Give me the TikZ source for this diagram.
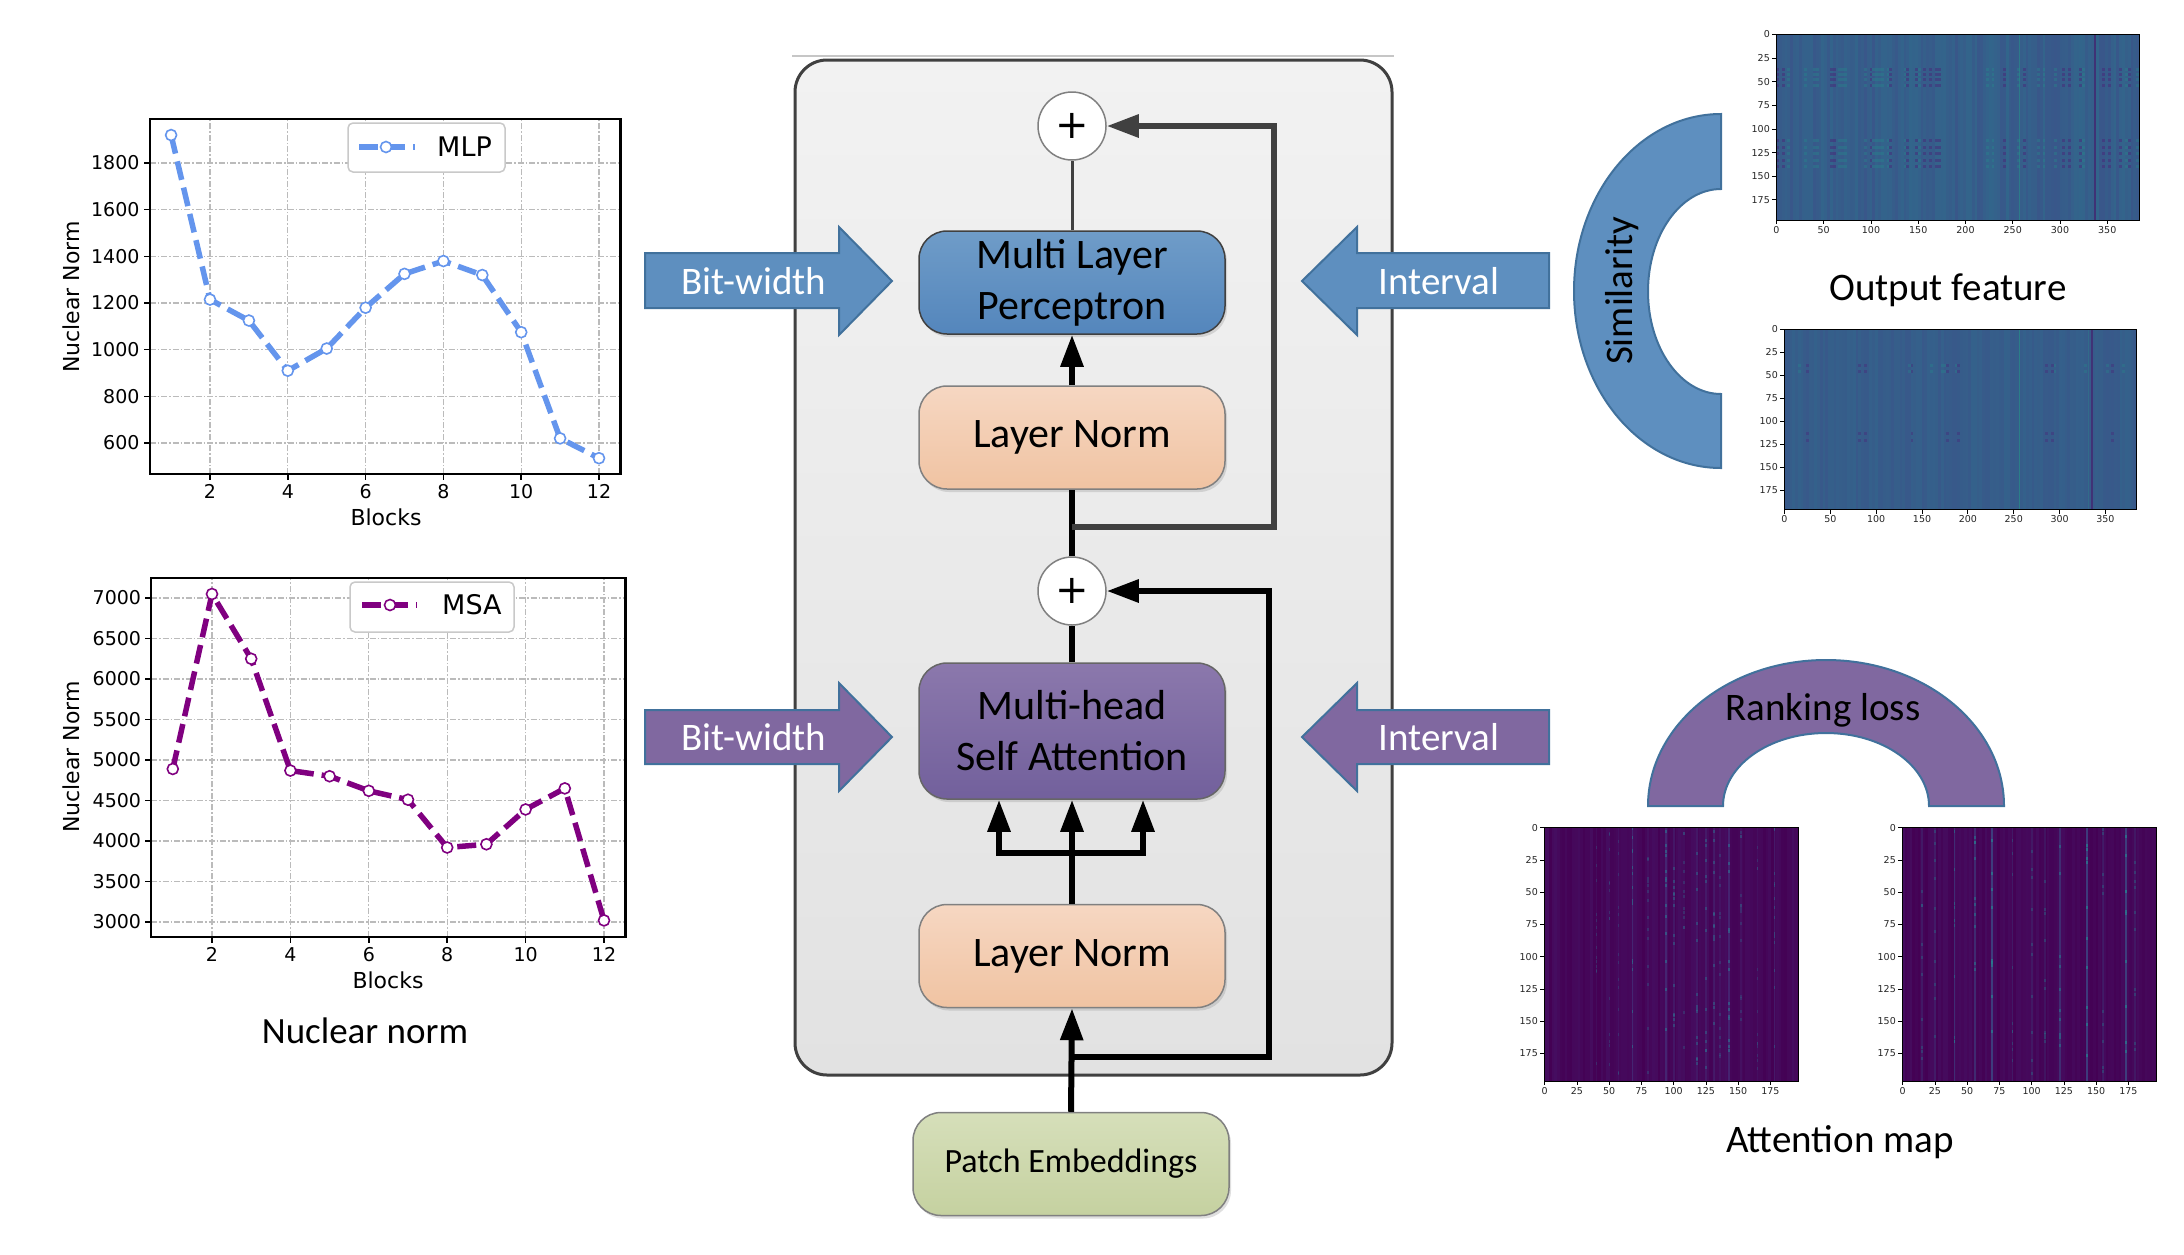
\documentclass[tikz,border=0pt]{standalone}
\usepackage{fontspec}
\setmainfont{Carlito}
\newfontfamily\plotfont{DejaVu Sans}
\usetikzlibrary{arrows.meta,shadows}
\definecolor{mlpblue}{HTML}{6495ED}
\definecolor{msapurp}{HTML}{800080}
\definecolor{gridgray}{HTML}{BBBBBB}
\definecolor{arrowblue}{HTML}{5E8FBF}
\definecolor{arrowpurp}{HTML}{8068A0}
\definecolor{arrowedge}{HTML}{41719C}
\definecolor{linegray}{HTML}{404040}
\definecolor{mlptop}{HTML}{6F9CC8}
\definecolor{mlpbot}{HTML}{5486BC}
\definecolor{msatop}{HTML}{8B78AC}
\definecolor{msabot}{HTML}{72609C}
\definecolor{lntop}{HTML}{F6D7C2}
\definecolor{lnbot}{HTML}{F0C3A2}
\definecolor{petop}{HTML}{D6DFBA}
\definecolor{pebot}{HTML}{C5D1A0}
\definecolor{outertop}{HTML}{F2F2F2}
\definecolor{outerbot}{HTML}{E2E2E2}
\definecolor{boxedge}{HTML}{808080}
\definecolor{vdark}{HTML}{414487}
\definecolor{vlight}{HTML}{2A788E}
\definecolor{vteal}{HTML}{22A884}
\definecolor{vpurp}{HTML}{472D7B}
\definecolor{vblack}{HTML}{440154}
\definecolor{vdeep}{HTML}{482475}
\tikzset{
  gridline/.style={gridgray, line width=1.2pt, dash pattern=on 6pt off 2pt on 1.5pt off 2pt},
  spine/.style={black, line width=2.2pt},
  tickmark/.style={black, line width=1.5pt},
  ticklbl/.style={font=\plotfont\fontsize{19}{19}\selectfont, inner sep=0pt},
  axlbl/.style={font=\plotfont\fontsize{22}{22}\selectfont, inner sep=0pt},
  leglbl/.style={font=\plotfont\fontsize{27}{27}\selectfont, inner sep=0pt, anchor=west},
  legbox/.style={draw=gridgray!80, fill=white, line width=1.5pt, rounded corners=5pt},
  mlpline/.style={mlpblue, line width=5.5pt, dash pattern=on 19pt off 8pt, line join=round},
  msaline/.style={msapurp, line width=5.5pt, dash pattern=on 19pt off 8pt, line join=round},
  mlpmark/.style={draw=mlpblue, fill=white, line width=1.6pt},
  msamark/.style={draw=msapurp, fill=white, line width=1.6pt},
  bigtxt/.style={font=\fontsize{39}{39}\selectfont, inner sep=0pt},
  stagebox/.style={rounded corners=28pt, minimum width=306pt, minimum height=103pt, draw=boxedge, line width=1.5pt,
    font=\fontsize{42}{51}\selectfont, align=center, inner sep=0pt,
    drop shadow={shadow xshift=2pt, shadow yshift=-3pt, opacity=0.25}},
  mlpfill/.style={top color=mlptop, bottom color=mlpbot, draw=linegray},
  msafill/.style={top color=msatop, bottom color=msabot, draw=linegray!80},
  lnfill/.style={top color=lntop, bottom color=lnbot},
  pefill/.style={top color=petop, bottom color=pebot},
  plusnode/.style={circle, draw=boxedge, fill=white, line width=1.5pt, minimum size=68pt, inner sep=0pt,
    font=\plotfont\fontsize{40}{40}\selectfont},
  flow/.style={black, line width=6pt},
  skipflow/.style={linegray, line width=6pt},
  arr/.style={-{Triangle[length=32pt,width=22pt]}},
  bluearrow/.style={fill=arrowblue, draw=arrowedge, line width=2pt},
  purparrow/.style={fill=arrowpurp, draw=arrowedge, line width=2pt},
  arrowtxt/.style={text=white, font=\fontsize{39}{39}\selectfont, inner sep=0pt},
  hmedge/.style={black, line width=0.8pt},
  hmlbl/.style={font=\plotfont\fontsize{9.5}{9.5}\selectfont, inner sep=0pt, text=black!85},
}
\newcommand\hmframe[8]{%
  \pgfmathsetmacro\hmR{#2+#5*#4}%
  \pgfmathsetmacro\hmB{#3+#6*#4}%
  \draw[hmedge] (#2,#3) rectangle (\hmR,\hmB);
  \foreach \tk in {#7}{%
    \pgfmathsetmacro\tx{#2+(\tk+0.5)*#4}%
    \draw[hmedge] (\tx,\hmB) -- ++(0,4);
    \node[hmlbl, anchor=north] (#1x\tk) at (\tx,\hmB+6) {\tk};
  }%
  \foreach \tk in {#8}{%
    \pgfmathsetmacro\ty{#3+(\tk+0.5)*#4}%
    \draw[hmedge] (#2,\ty) -- ++(-4,0);
    \node[hmlbl, anchor=east] (#1y\tk) at (#2-6,\ty) {\tk};
  }%
}
\begin{document}
\begin{tikzpicture}[x=1pt,y=-1pt]
\useasboundingbox (0,0) rectangle (2184,1254);
\fill[white] (0,0) rectangle (2184,1254);
\pgfmathsetseed{20231}

% ================= MLP plot =================
\begin{scope}[shift={(132.2,583)},x=38.9pt,y=0.2333pt]
  \foreach \bk in {2,4,...,12}{
    \draw[gridline] (\bk,466) -- (\bk,1989);
    \draw[tickmark] (\bk,466) -- ++(0pt,-6pt);
    \node[ticklbl] (mlpx\bk) at ([yshift=-17pt]\bk,466) {\bk};
  }
  \foreach \vv in {600,800,...,1800}{
    \draw[gridline] (0.45,\vv) -- (12.55,\vv);
    \draw[tickmark] (0.45,\vv) -- ++(-6pt,0pt);
    \node[ticklbl, anchor=east] (mlpy\vv) at ([xshift=-10pt]0.45,\vv) {\vv};
  }
  \draw[spine] (0.45,466) rectangle (12.55,1989);
  \draw[mlpline] plot coordinates {(1,1920) (2,1215) (3,1125) (4,910) (5,1005) (6,1180) (7,1325) (8,1380) (9,1320) (10,1075) (11,620) (12,535)};
  \foreach \bk/\vv in {1/1920,2/1215,3/1125,4/910,5/1005,6/1180,7/1325,8/1380,9/1320,10/1075,11/620,12/535}
    \draw[mlpmark] (\bk,\vv) circle[radius=5.5pt];
\end{scope}
\node[axlbl, rotate=90] (mlpylab) at (71,297) {Nuclear Norm};
\node[axlbl] (mlpxlab) at (386,517) {Blocks};
\draw[legbox] (348,123) rectangle (505,172);
\draw[mlpline] (359,147) -- (415,147);
\draw[mlpmark] (386,147) circle[radius=5.5pt];
\node[leglbl] (mlpleg) at (437,147) {MLP};

% ================= MSA plot =================
\begin{scope}[shift={(133.6,1165)},x=39.2pt,y=0.081pt]
  \foreach \bk in {2,4,...,12}{
    \draw[gridline] (\bk,2818) -- (\bk,7251);
    \draw[tickmark] (\bk,2818) -- ++(0pt,-6pt);
    \node[ticklbl] (msax\bk) at ([yshift=-18pt]\bk,2818) {\bk};
  }
  \foreach \vv in {3000,3500,...,7000}{
    \draw[gridline] (0.45,\vv) -- (12.55,\vv);
    \draw[tickmark] (0.45,\vv) -- ++(-6pt,0pt);
    \node[ticklbl, anchor=east] (msay\vv) at ([xshift=-10pt]0.45,\vv) {\vv};
  }
  \draw[spine] (0.45,2818) rectangle (12.55,7251);
  \draw[msaline] plot coordinates {(1,4890) (2,7050) (3,6250) (4,4870) (5,4800) (6,4620) (7,4510) (8,3920) (9,3960) (10,4390) (11,4650) (12,3020)};
  \foreach \bk/\vv in {1/4890,2/7050,3/6250,4/4870,5/4800,6/4620,7/4510,8/3920,9/3960,10/4390,11/4650,12/3020}
    \draw[msamark] (\bk,\vv) circle[radius=5.5pt];
\end{scope}
\node[axlbl, rotate=90] (msaylab) at (71,757) {Nuclear Norm};
\node[axlbl] (msaxlab) at (388,980) {Blocks};
\draw[legbox] (350,582) rectangle (514,632);
\draw[msaline] (362,605) -- (417,605);
\draw[msamark] (390,605) circle[radius=5.5pt];
\node[leglbl] (msaleg) at (442,605) {MSA};
\node[font=\fontsize{37}{37}\selectfont, inner sep=0pt] (nntitle) at (365,1031) {Nuclear norm};

% ================= Transformer block =================
\draw[gray!45, line width=1.5pt] (792,56) -- (1394,56);
\node[draw=linegray, line width=3pt, rounded corners=32pt, top color=outertop, bottom color=outerbot,
  minimum width=597pt, minimum height=1015pt, inner sep=0pt] (block) at (1093.5,567.5) {};

\node[stagebox, mlpfill] (mlp) at (1072,282.5) {Multi Layer\\Perceptron};
\node[stagebox, lnfill] (ln1) at (1072,437.5) {Layer Norm};
\node[plusnode] (p1) at (1072,126) {+};
\node[plusnode] (p2) at (1072,591) {+};
\node[stagebox, msafill, minimum height=136pt] (msa) at (1072,731) {Multi-head\\Self Attention};
\node[stagebox, lnfill] (ln2) at (1072,956) {Layer Norm};
\node[stagebox, pefill, minimum width=316pt, font=\fontsize{34}{34}\selectfont] (pe) at (1071,1164) {Patch Embeddings};

\draw[flow, arr] (ln1.north) -- (mlp.south);
\draw[linegray, line width=3pt] (mlp.north) -- (p1.south);
\draw[flow] (p2.north) -- (ln1.south);
\coordinate (s1) at (1072,527);
\coordinate (s1r) at (1274,527);
\draw[skipflow, arr] (s1) -- (s1r) |- (p1.east);
\draw[flow] (msa.north) -- (p2.south);
\draw[flow, arr] (ln2.north) -- (msa.south);
\coordinate (bl) at (999,853);
\coordinate (br) at (1143,853);
\draw[flow, {Triangle[length=32pt,width=22pt]}-{Triangle[length=32pt,width=22pt]}] (bl |- msa.south) -- (bl) -- (br) -- (br |- msa.south);
\coordinate (s2) at (1072,1057);
\coordinate (s2r) at (1269,1057);
\draw[flow, arr] (s2) -- (s2r) |- (p2.east);
\draw[flow, arr] (pe.north) -- (ln2.south);

% side arrows
\draw[bluearrow] (645,253) -- (839,253) -- (839,227) -- (892,281) -- (839,335) -- (839,308) -- (645,308) -- cycle;
\node[arrowtxt] (bw1) at (754,281) {Bit-width};
\draw[bluearrow] (1549,253) -- (1357,253) -- (1357,227) -- (1302,281) -- (1357,335) -- (1357,308) -- (1549,308) -- cycle;
\node[arrowtxt] (iv1) at (1439,281) {Interval};
\draw[purparrow] (645,710) -- (839,710) -- (839,683) -- (892,737) -- (839,791) -- (839,764) -- (645,764) -- cycle;
\node[arrowtxt] (bw2) at (754,737) {Bit-width};
\draw[purparrow] (1549,710) -- (1357,710) -- (1357,683) -- (1302,737) -- (1357,791) -- (1357,764) -- (1549,764) -- cycle;
\node[arrowtxt] (iv2) at (1439,737) {Interval};

% ================= Similarity arc =================
\draw[fill=arrowblue, draw=arrowedge, line width=2pt]
  (1721,114) arc[start angle=270, end angle=90, x radius=147, y radius=177]
  -- (1721,394) arc[start angle=90, end angle=270, x radius=73, y radius=102.5] -- cycle;
\node[bigtxt, rotate=90] (sim) at (1622,291) {Similarity};

% ================= Output feature heatmaps =================
\fill[vlight!50!vdark] (1776,34) rectangle (2139,220);
\foreach \i in {0,...,127}{
  \pgfmathrandominteger{\rv}{36}{64}
  \pgfmathrandominteger{\pat}{0}{9}
  \pgfmathsetmacro\xa{1776+\i*2.836}
  \fill[vlight!\rv!vdark] (\xa,34) rectangle ++(2.9,186);
  \ifnum\pat<2
    \foreach \row in {36,41,47,53,111,118,125,132,139}
      \fill[vpurp, opacity=0.55] (\xa,34+\row*0.945) rectangle ++(2.9,3);
  \fi
  \ifnum\pat>7
    \foreach \row in {36,41,47,53,111,118,125,132,139}
      \fill[vlight!80!vteal, opacity=0.45] (\xa,34+\row*0.945) rectangle ++(2.9,3);
  \fi
}
\fill[vteal!50!vlight, opacity=0.6] (1776+257*0.945,34) rectangle ++(1.6,186);
\fill[vdark!60!vblack, opacity=0.8] (1776+337*0.945,34) rectangle ++(2,186);
\hmframe{ofa}{1776}{34}{0.945}{384}{197}{0,50,...,350}{0,25,...,175}

\fill[vlight!45!vdark] (1784,329) rectangle (2136,510);
\foreach \i in {0,...,127}{
  \pgfmathrandominteger{\rv}{40}{56}
  \pgfmathrandominteger{\pat}{0}{19}
  \pgfmathsetmacro\xa{1784+\i*2.75}
  \fill[vlight!\rv!vdark] (\xa,329) rectangle ++(2.8,181);
  \ifnum\pat<2
    \foreach \row in {38,45,112,120}
      \fill[vpurp, opacity=0.45] (\xa,329+\row*0.917) rectangle ++(2.8,3);
  \fi
  \ifnum\pat>17
    \foreach \row in {38,45}
      \fill[vlight!80!vteal, opacity=0.4] (\xa,329+\row*0.917) rectangle ++(2.8,3);
  \fi
}
\fill[vteal!60!vlight, opacity=0.6] (1784+256*0.917,329) rectangle ++(1.6,181);
\fill[vteal!60!vlight, opacity=0.3] (1784+331*0.917,329) rectangle ++(1.6,181);
\fill[vdark!60!vblack, opacity=0.8] (1784+335*0.917,329) rectangle ++(2,181);
\hmframe{ofb}{1784}{329}{0.917}{384}{197}{0,50,...,350}{0,25,...,175}
\node[bigtxt] (oftxt) at (1948,290) {Output feature};

% ================= Ranking loss arc =================
\draw[fill=arrowpurp, draw=arrowedge, line width=2pt]
  (1648,806) arc[start angle=180, end angle=360, x radius=178, y radius=146]
  -- (1929,806) arc[start angle=0, end angle=-180, x radius=103, y radius=73] -- cycle;
\node[bigtxt] (rank) at (1823,710) {Ranking loss};

% ================= Attention maps =================
\fill[vblack!85!vdeep] (1544,827) rectangle (1798,1081);
\foreach \i in {0,...,97}{
  \pgfmathrandominteger{\rv}{0}{35}
  \fill[vdeep!\rv!vblack] (1544+\i*2.58,827) rectangle ++(2.65,254);
}
\foreach \cc/\sw in {40/1,50/1,57/1,68/3,80/1,94/3,100/2,108/1,118/2,125/2,131/2,136/1,143/3,152/1,165/1,178/2}{
  \pgfmathsetmacro\xa{1544+\cc*1.29}
  \pgfmathsetmacro\op{0.2*\sw}
  \pgfmathsetmacro\opd{0.15+0.2*\sw}
  \fill[vpurp!70!vdark, opacity=\op] (\xa,827) rectangle ++(1.5,254);
  \foreach \k in {1,...,14}{
    \pgfmathrandominteger{\rr}{0}{190}
    \fill[vlight!60!vdark, opacity=\opd] (\xa,827+\rr*1.29) rectangle ++(1.5,3);
  }
}
\hmframe{ama}{1544}{827}{1.29}{197}{197}{0,25,...,175}{0,25,...,175}

\fill[vblack!85!vdeep] (1902,827) rectangle (2156,1081);
\foreach \i in {0,...,97}{
  \pgfmathrandominteger{\rv}{0}{30}
  \fill[vdeep!\rv!vblack] (1902+\i*2.58,827) rectangle ++(2.65,254);
}
\foreach \cc/\sw in {15/1,25/1,40/2,56/2,69/3,85/1,100/1,110/1,122/2,143/3,155/1,173/3,180/1}{
  \pgfmathsetmacro\xa{1902+\cc*1.29}
  \pgfmathsetmacro\op{0.25*\sw}
  \pgfmathsetmacro\opd{0.15+0.2*\sw}
  \fill[vdark!80!vlight, opacity=\op] (\xa,827) rectangle ++(1.6,254);
  \foreach \k in {1,...,10}{
    \pgfmathrandominteger{\rr}{0}{190}
    \fill[vlight, opacity=\opd] (\xa,827+\rr*1.29) rectangle ++(1.6,3);
  }
}
\hmframe{amb}{1902}{827}{1.29}{197}{197}{0,25,...,175}{0,25,...,175}
\node[bigtxt] (amtxt) at (1840,1142) {Attention map};
\end{tikzpicture}
\end{document}
